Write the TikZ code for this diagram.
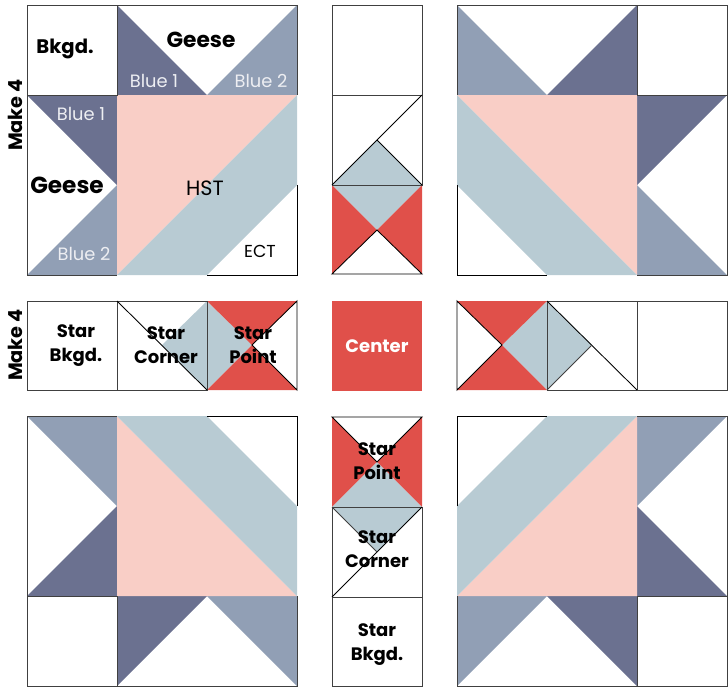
\documentclass[tikz,border=0pt]{standalone}
\usepackage{fontspec}
\setmainfont{Poppins}
\usepackage{tikz}
\definecolor{blueone}{HTML}{6B7190}
\definecolor{bluetwo}{HTML}{919FB5}
\definecolor{hstpink}{HTML}{F9CEC6}
\definecolor{hstblue}{HTML}{B8CBD3}
\definecolor{starred}{HTML}{E0504A}
\definecolor{seam}{HTML}{404040}
\tikzset{
  seamline/.style={draw=seam,line width=0.6pt},
  darkline/.style={draw=black,line width=0.65pt},
  boldlbl/.style={font=\bfseries\fontsize{13.5}{18}\selectfont,align=center,inner sep=0pt},
  geeselbl/.style={font=\bfseries\fontsize{16.3}{19}\selectfont,inner sep=0pt},
  bluelbl/.style={font=\fontsize{13.4}{15}\selectfont,text=white!88!blueone,inner sep=0pt},
  thinlbl/.style={font=\fontsize{13}{15}\selectfont,inner sep=0pt},
  makelbl/.style={font=\bfseries\fontsize{14.5}{16}\selectfont,rotate=90,inner sep=0pt},
}
\begin{document}
\begin{tikzpicture}[x=0.75pt,y=-0.75pt]
  \useasboundingbox (0,0) rectangle (728,687);
  % the four large blocks are mirror images of one another
  \foreach \ox/\oy/\sx/\sy in {27/5/1/1,727/5/-1/1,27/686/1/-1,727/686/-1/-1}{
    \begin{scope}[shift={(\ox,\oy)},xscale=\sx,yscale=\sy]
      \fill[blueone] (90,0) -- (180,90) -- (90,90) -- cycle;
      \fill[bluetwo] (270,0) -- (180,90) -- (270,90) -- cycle;
      \fill[blueone] (0,90) -- (90,90) -- (90,180) -- cycle;
      \fill[bluetwo] (0,270) -- (90,180) -- (90,270) -- cycle;
      \fill[hstpink] (90,90) -- (270,90) -- (90,270) -- cycle;
      \fill[hstblue] (270,90) -- (270,180) -- (180,270) -- (90,270) -- cycle;
      \draw[seamline] (0,0) rectangle (90,90);
      \draw[seamline] (90,0) -- (270,0) -- (270,90);
      \draw[seamline] (0,90) -- (0,270) -- (90,270);
      \draw[darkline] (270,180) -- (270,270) -- (180,270);
    \end{scope}
  }
  % middle column, top
  \draw[seamline] (332,5) rectangle (422,95);
  \fill[hstblue] (332,185) -- (377,140) -- (422,185) -- (377,230) -- cycle;
  \fill[starred] (332,185) -- (377,230) -- (332,274) -- cycle;
  \fill[starred] (422,185) -- (377,230) -- (422,274) -- cycle;
  \draw[seamline] (332,95) rectangle (422,185);
  \draw[darkline] (332,185) -- (422,95);
  \draw[darkline] (377,140) -- (422,185);
  \draw[darkline] (332,274) -- (377,230) -- (422,274) -- cycle;
  % middle row, left
  \draw[seamline] (27,301) rectangle (117,390);
  \fill[hstblue] (207,301) -- (162,345) -- (207,390) -- (252,345) -- cycle;
  \fill[starred] (207,301) -- (297,301) -- (252,345) -- cycle;
  \fill[starred] (207,390) -- (297,390) -- (252,345) -- cycle;
  \draw[seamline] (117,301) rectangle (207,390);
  \draw[darkline] (117,301) -- (207,390);
  \draw[darkline] (297,301) -- (252,345) -- (297,390) -- cycle;
  % centre
  \fill[starred] (332,301) rectangle (422,391);
  % middle row, right
  \fill[hstblue] (547,301) -- (502,345) -- (547,390) -- (592,345) -- cycle;
  \fill[starred] (457,301) -- (547,301) -- (502,345) -- cycle;
  \fill[starred] (457,390) -- (547,390) -- (502,345) -- cycle;
  \draw[darkline] (457,301) -- (502,345) -- (457,390) -- cycle;
  \draw[seamline] (547,301) rectangle (637,390);
  \draw[seamline] (637,301) rectangle (727,390);
  \draw[darkline] (547,301) -- (637,390);
  \draw[seamline] (547,390) -- (592,345);
  % middle column, bottom
  \fill[starred] (332,417) -- (377,462) -- (332,507) -- cycle;
  \fill[starred] (422,417) -- (377,462) -- (422,507) -- cycle;
  \fill[hstblue] (332,507) -- (377,462) -- (422,507) -- (377,552) -- cycle;
  \draw[darkline] (332,417) -- (377,462) -- (422,417) -- cycle;
  \draw[seamline] (332,507) rectangle (422,597);
  \draw[seamline] (332,597) rectangle (422,686);
  \draw[darkline] (332,597) -- (422,507);
  \draw[seamline] (332,507) -- (377,552);
  % labels
  \node[makelbl] (makeTop) at (15,115) {Make 4};
  \node[makelbl] (makeMid) at (15,345) {Make 4};
  \node[boldlbl,font=\bfseries\fontsize{14.7}{18}\selectfont] (bkgd) at (65,49) {Bkgd.};
  \node[geeselbl] (geeseTop) at (201,40) {Geese};
  \node[geeselbl,font=\bfseries\fontsize{17.4}{19}\selectfont] (geeseLeft) at (67,185) {Geese};
  \node[bluelbl] (blueOneTop) at (154,81) {Blue 1};
  \node[bluelbl] (blueTwoTop) at (261,81) {Blue 2};
  \node[bluelbl] (blueOneLeft) at (81,114) {Blue 1};
  \node[bluelbl] (blueTwoLeft) at (84,254) {Blue 2};
  \node[thinlbl,font=\fontsize{15.5}{17}\selectfont] (hst) at (205,188) {HST};
  \node[thinlbl] (ect) at (260,251) {ECT};
  \node[boldlbl] (bkgdStarA) at (76,346) {Star\\Bkgd.};
  \node[boldlbl] (cornerA) at (166,345) {Star\\Corner};
  \node[boldlbl] (pointA) at (253,345) {Star\\Point};
  \node[boldlbl,text=white] (center) at (377,346) {Center};
  \node[boldlbl] (pointB) at (377,461) {Star\\Point};
  \node[boldlbl] (cornerB) at (377,549) {Star\\Corner};
  \node[boldlbl] (bkgdStarB) at (377,645) {Star\\Bkgd.};
\end{tikzpicture}
\end{document}
